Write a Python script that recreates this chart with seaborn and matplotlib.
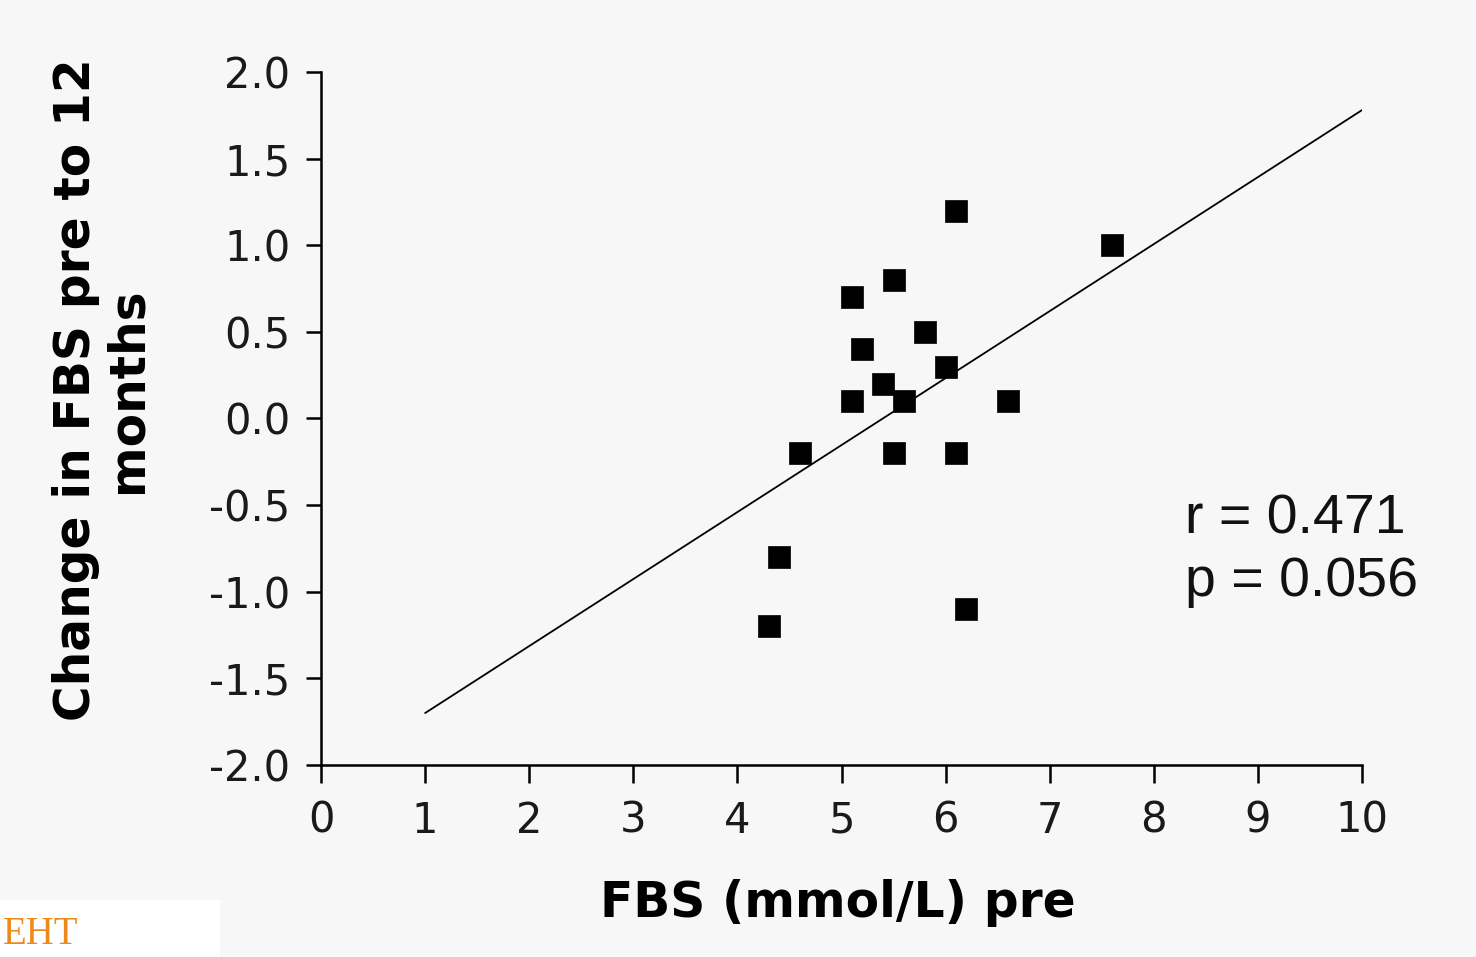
import seaborn as sns
import numpy as np
import matplotlib.pyplot as plt
import matplotlib.patches as mpatches
import pandas as pd

# values
fbs_pre = [6.1, 7.6, 5.5, 5.1, 5.8, 5.2, 6.0, 5.4, 5.1, 5.6, 6.6, 4.6, 5.5, 6.1, 4.4, 6.2, 4.3]
fbs_change = [1.2, 1.0, 0.8, 0.7, 0.5, 0.4, 0.3, 0.2, 0.1, 0.1, 0.1, -0.2, -0.2, -0.2, -0.8, -1.1, -1.2]
fit_x = [1, 10]
fit_y = [-1.7, 1.78]
x_ticks = list(range(0, 11))
y_ticks = [-2.0, -1.5, -1.0, -0.5, 0.0, 0.5, 1.0, 1.5, 2.0]
stats_text = "r = 0.471\np = 0.056"


def create_chart():
    sns.set_theme(style="ticks")
    plt.rcParams['font.family'] = ['Liberation Sans', 'DejaVu Sans']
    bg = '#f7f7f7'
    wide = ['DejaVu Sans']

    data = pd.DataFrame({"pre": fbs_pre, "change": fbs_change})
    fit = pd.DataFrame({"x": fit_x, "y": fit_y})

    fig = plt.figure(figsize=(14.76, 9.57), dpi=100, facecolor=bg)
    ax = fig.add_axes([0.2175, 0.2006, 0.7053, 0.7242], facecolor=bg)

    sns.lineplot(x="x", y="y", data=fit, color='black', lw=1.3, ax=ax)
    sns.scatterplot(x="pre", y="change", data=data, marker='s', s=230, color='black',
                    edgecolor='black', linewidth=0.5, ax=ax, zorder=3)

    ax.set_xlim(0, 10)
    ax.set_ylim(-2, 2)
    ax.set_xticks(x_ticks)
    ax.set_xticklabels([str(t) for t in x_ticks], family=wide)
    ax.set_yticks(y_ticks)
    ax.set_yticklabels(["%.1f" % t for t in y_ticks], family=wide)
    for side in ["top", "right"]:
        ax.spines[side].set_visible(False)
    for side in ["left", "bottom"]:
        ax.spines[side].set_linewidth(1.8)
        ax.spines[side].set_color('black')
    ax.tick_params(axis='both', direction='out', width=1.8, colors='black',
                   labelsize=30, labelcolor='#1a1a1a')
    ax.tick_params(axis='x', length=13, pad=12)
    ax.tick_params(axis='y', length=11, pad=11)

    ax.set_xlabel("FBS (mmol/L) pre", fontsize=35, fontweight='bold', family=wide,
                  va='center', color='black')
    ax.xaxis.set_label_coords(0.4966, -0.199)
    ax.set_ylabel("Change in FBS pre to 12\nmonths", fontsize=35, fontweight='bold', family=wide,
                  va='center', linespacing=1.1, color='black')
    ax.yaxis.set_label_coords(-0.2104, 0.541)

    ax.text(8.3, -0.765, stats_text, fontsize=40, color='#111111', va='center', ha='left',
            linespacing=1.26)

    # logo fragment in the lower left corner
    fig.patches.append(mpatches.Rectangle((0, 0), 220 / 1476, 57 / 957, transform=fig.transFigure,
                                          facecolor='white', edgecolor='none', zorder=5))
    fig.text(0.002, 0.004, "EHT", fontsize=28, color='#ee8a1c', family='Liberation Serif',
             ha='left', va='bottom', zorder=6)

    fig.savefig("out.png", dpi=100, facecolor=bg)


if __name__ == '__main__':
    create_chart()
